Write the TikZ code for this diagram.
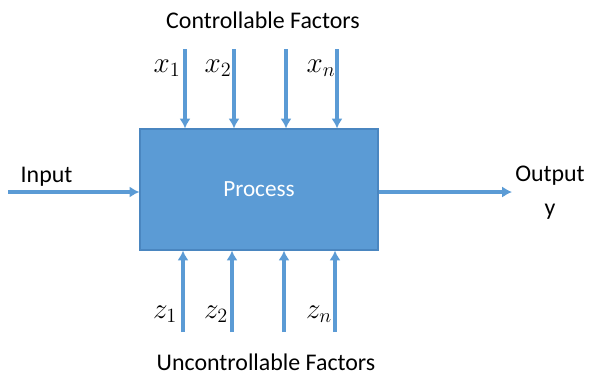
\documentclass[tikz,border=0pt]{standalone}
\usepackage{fontspec}
\setmainfont{Carlito}
\usetikzlibrary{arrows,arrows.meta}
\tikzset{>=latex}
\usepackage{amsmath,amsfonts,amssymb}
\definecolor{procblue}{HTML}{5B9BD5}
\definecolor{procedge}{HTML}{4A86C0}

\begin{document}
\begin{tikzpicture}[x=0.025cm,y=-0.025cm,->,align=center]
\tikzstyle{flow} = [draw=procblue,line width=2.2pt,-{Latex[length=7pt,width=8pt]}]
\tikzstyle{lbl} = [font=\fontsize{17}{19}\selectfont,inner sep=1pt]
\tikzstyle{var} = [font=\fontsize{20}{22}\selectfont]
\useasboundingbox (0,0) rectangle (589,375);
\node[rectangle,draw=procedge,fill=procblue,line width=0.8pt,minimum width=238*0.025cm,minimum height=121*0.025cm,text=white,font=\fontsize{16.5}{18}\selectfont] (proc) at (259,189.5) {Process};
\node[lbl] (ctrl) at (263,20) {Controllable Factors};
\node[lbl,inner sep=0pt] (unctrl) at (266,362) {Uncontrollable Factors};
\node[lbl,anchor=west] (in) at (19,177) {Input};
\node[lbl] (out) at (550,176) {Output};
\node[lbl] (y) at (550,212) {y};
% controllable inputs
\coordinate (xa) at (185,49);
\coordinate (xb) at (234,49);
\coordinate (xc) at (286,49);
\coordinate (xd) at (337,49);
\node[var] (xlab1) at (167,68) {$x_1$};
\node[var] (xlab2) at (218,68) {$x_2$};
\node[var] (xlabn) at (321,68) {$x_n$};
% uncontrollable inputs
\coordinate (za) at (183,332);
\coordinate (zb) at (232,332);
\coordinate (zc) at (284,332);
\coordinate (zd) at (335,332);
\node[var] (zlab1) at (165,314) {$z_1$};
\node[var] (zlab2) at (216,314) {$z_2$};
\node[var] (zlabn) at (319,314) {$z_n$};
\coordinate (ins) at (8,192);
\coordinate (oute) at (512,192);
\draw[flow] (xa) -- (xa |- proc.north);
\draw[flow] (xb) -- (xb |- proc.north);
\draw[flow] (xc) -- (xc |- proc.north);
\draw[flow] (xd) -- (xd |- proc.north);
\draw[flow] (za) -- (za |- proc.south);
\draw[flow] (zb) -- (zb |- proc.south);
\draw[flow] (zc) -- (zc |- proc.south);
\draw[flow] (zd) -- (zd |- proc.south);
\draw[flow] (ins) -- (ins -| proc.west);
\draw[flow] (oute -| proc.east) -- (oute);
\end{tikzpicture}
\end{document}
